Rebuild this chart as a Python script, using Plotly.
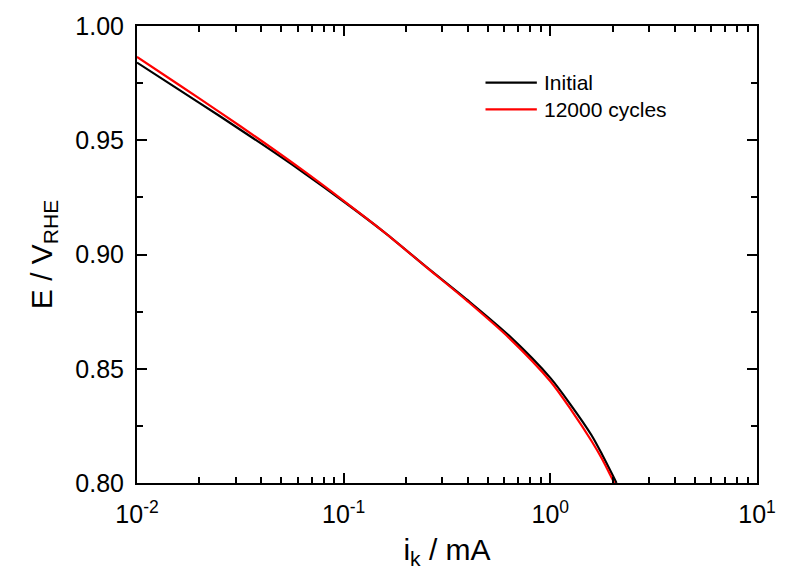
import plotly.graph_objects as go

# data
ik_initial = [0.01, 0.0158, 0.0251, 0.0398, 0.0631, 0.1, 0.158, 0.251, 0.398, 0.631, 1.0, 1.26, 1.58, 1.78, 2.0, 2.09]
E_initial = [0.984, 0.9724, 0.9606, 0.9486, 0.9362, 0.9232, 0.9096, 0.8946, 0.880, 0.8645, 0.846, 0.834, 0.821, 0.8125, 0.8035, 0.800]
ik_12000 = [0.01, 0.0158, 0.0251, 0.0398, 0.0631, 0.1, 0.158, 0.251, 0.398, 0.631, 1.0, 1.26, 1.58, 1.78, 1.95, 2.04]
E_12000 = [0.9865, 0.9745, 0.9623, 0.9499, 0.937, 0.9235, 0.9096, 0.8945, 0.8795, 0.8635, 0.8445, 0.832, 0.8185, 0.8105, 0.8035, 0.800]
series_names = ["Initial", "12000 cycles"]
series_colors = ["#000000", "#ff0000"]

x_tickvals = [0.01, 0.1, 1, 10]
x_ticktext = ["10<sup>-2</sup>", "10<sup>-1</sup>", "10<sup>0</sup>", "10<sup>1</sup>"]
x_minor = [m * 10 ** e for e in (-2, -1, 0) for m in range(2, 10)]
y_tickvals = [0.80, 0.85, 0.90, 0.95, 1.00]
y_ticktext = ["0.80", "0.85", "0.90", "0.95", "1.00"]
y_minor = [0.825, 0.875, 0.925, 0.975]

FONT = "Liberation Sans, Arial, sans-serif"

fig = go.Figure()
for xs, ys, name, col in [(ik_initial, E_initial, series_names[0], series_colors[0]),
                          (ik_12000, E_12000, series_names[1], series_colors[1])]:
    fig.add_trace(go.Scatter(x=xs, y=ys, mode="lines", name=name,
                             line=dict(color=col, width=2.2, shape="spline", smoothing=0.8),
                             showlegend=False))

axis_common = dict(showline=True, linecolor="black", linewidth=2, mirror="allticks",
                   ticks="inside", ticklen=10, tickwidth=2, tickcolor="black",
                   showgrid=False, zeroline=False,
                   tickfont=dict(family=FONT, size=25, color="black"))

fig.update_xaxes(type="log", range=[-2, 1], tickmode="array", tickvals=x_tickvals,
                 ticktext=x_ticktext, ticklabelstandoff=8,
                 minor=dict(tickmode="array", tickvals=x_minor, ticks="inside", ticklen=6,
                            tickwidth=2, tickcolor="black", showgrid=False),
                 title=dict(text="i<sub>k</sub> / mA", font=dict(family=FONT, size=30, color="black"),
                            standoff=12),
                 **axis_common)
fig.update_yaxes(range=[0.80, 1.00], tickmode="array", tickvals=y_tickvals,
                 ticktext=y_ticktext, ticklabelstandoff=6,
                 minor=dict(tickmode="array", tickvals=y_minor, ticks="inside", ticklen=6,
                            tickwidth=2, tickcolor="black", showgrid=False),
                 title=dict(text="E / V<sub>RHE</sub>", font=dict(family=FONT, size=30, color="black"),
                            standoff=14),
                 **axis_common)

# manual legend
L, R, T, B = 137, 765, 23, 483
W, H = 788, 575
def px(x): return (x - L) / (R - L)
def py(y): return (B - y) / (B - T)
for i, (name, col) in enumerate(zip(series_names, series_colors)):
    yy = 80 + i * 27
    fig.add_shape(type="line", xref="paper", yref="paper", x0=px(490), x1=px(542),
                  y0=py(yy), y1=py(yy), line=dict(color=col, width=2.2))
    fig.add_annotation(xref="paper", yref="paper", x=px(547), y=py(yy), text=name,
                       showarrow=False, xanchor="left", yanchor="middle",
                       font=dict(family=FONT, size=21, color="black"))

fig.update_layout(width=W, height=H, margin=dict(l=L, r=W - R, t=T, b=H - B),
                  paper_bgcolor="white", plot_bgcolor="white",
                  font=dict(family=FONT, color="black"))
fig.write_html("out.html")
